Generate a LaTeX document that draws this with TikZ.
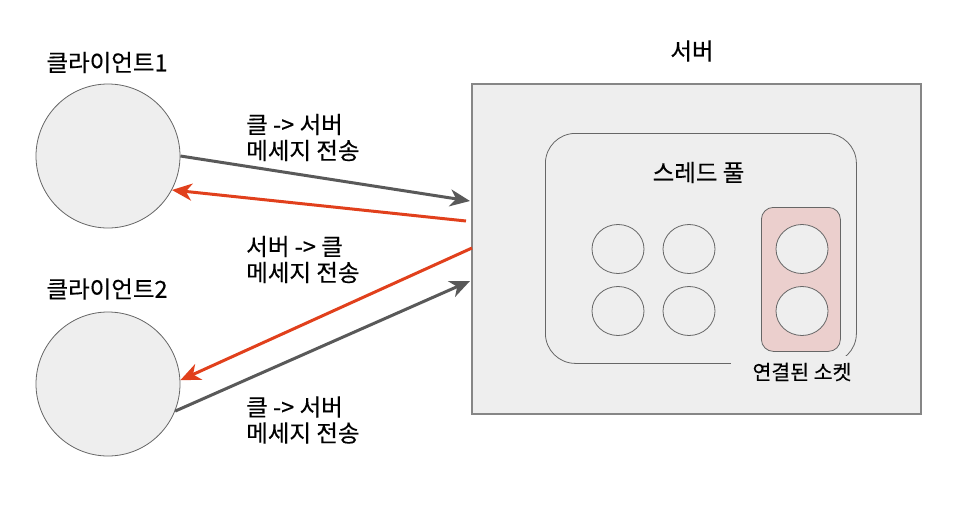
\documentclass[tikz,border=0pt]{standalone}
\usepackage{fontspec}
\setmainfont{Noto Sans CJK KR}[BoldFont={Noto Sans CJK KR}, BoldFeatures={FakeBold=0.4}]
\usetikzlibrary{arrows.meta,shapes.geometric}
\definecolor{bgfill}{HTML}{EEEEEE}
\definecolor{edge}{HTML}{666666}
\definecolor{srvedge}{HTML}{868686}
\definecolor{grayarrow}{HTML}{595959}
\definecolor{redarrow}{HTML}{E1401C}
\definecolor{sockfill}{HTML}{EBCFCD}
\tikzset{
  client/.style={circle, draw=edge, fill=bgfill, line width=0.8pt, minimum size=144pt, inner sep=0pt},
  thread/.style={ellipse, draw=edge, fill=bgfill, line width=0.8pt, minimum width=52pt, minimum height=49pt, inner sep=0pt},
  lbl/.style={font=\fontsize{23.5}{26}\selectfont\bfseries, inner sep=0pt},
  msg/.style={lbl, align=left, anchor=west},
  garrow/.style={draw=grayarrow, line width=3pt, -{Stealth[length=20pt,width=17pt,inset=6pt]}},
  rarrow/.style={draw=redarrow, line width=3pt, -{Stealth[length=20pt,width=17pt,inset=6pt]}},
}
\begin{document}
\begin{tikzpicture}[x=1pt,y=-1pt]
\useasboundingbox (0,0) rectangle (961,525);
% server
\node[draw=srvedge, fill=bgfill, line width=1.5pt, minimum width=449pt, minimum height=330pt, inner sep=0pt, anchor=north west] (server) at (471,83) {};
\node[lbl] (servertitle) at (692,51) {서버};
% thread pool
\node[draw=edge, rounded corners=30pt, line width=0.8pt, minimum width=311pt, minimum height=230pt, inner sep=0pt, anchor=north west] (pool) at (545,133) {};
\node[lbl] (pooltitle) at (698.5,172.5) {스레드 풀};
\node[thread] (t1) at (618,249) {};
\node[thread] (t2) at (689,249) {};
\node[thread] (t3) at (618,311) {};
\node[thread] (t4) at (689,311) {};
% connected sockets
\node[draw=edge, fill=sockfill, rounded corners=12pt, line width=0.8pt, minimum width=79pt, minimum height=144pt, inner sep=0pt, anchor=north west] (sock) at (761,207) {};
\node[thread] (s1) at (802,249) {};
\node[thread] (s2) at (802,311) {};
\node[fill=bgfill, minimum width=142pt, minimum height=32pt, inner sep=0pt] (sockbg) at (802,372) {};
\node[lbl, font=\fontsize{20.5}{24}\selectfont\bfseries] (socktitle) at (802,372) {연결된 소켓};
% clients
\node[client] (c1) at (108,156) {};
\node[client] (c2) at (108,384) {};
\node[lbl] (c1t) at (107,62.5) {클라이언트1};
\node[lbl] (c2t) at (107,289) {클라이언트2};
% arrow endpoints on server
\coordinate (p1) at (470,201);
\coordinate (p2) at (466,221);
\coordinate (p3) at (472,248);
\coordinate (p4) at (470,281);
\draw[garrow] (c1.east) -- (p1);
\draw[rarrow] (p2) -- (c1.-28);
\draw[rarrow] (p3) -- (c2.3);
\draw[garrow] (c2.-22) -- (p4);
% message labels
\node[msg] (m1) at (246,137.5) {클 -> 서버\\메세지 전송};
\node[msg] (m2) at (246,259.5) {서버 -> 클\\메세지 전송};
\node[msg] (m3) at (246,420) {클 -> 서버\\메세지 전송};
\end{tikzpicture}
\end{document}
